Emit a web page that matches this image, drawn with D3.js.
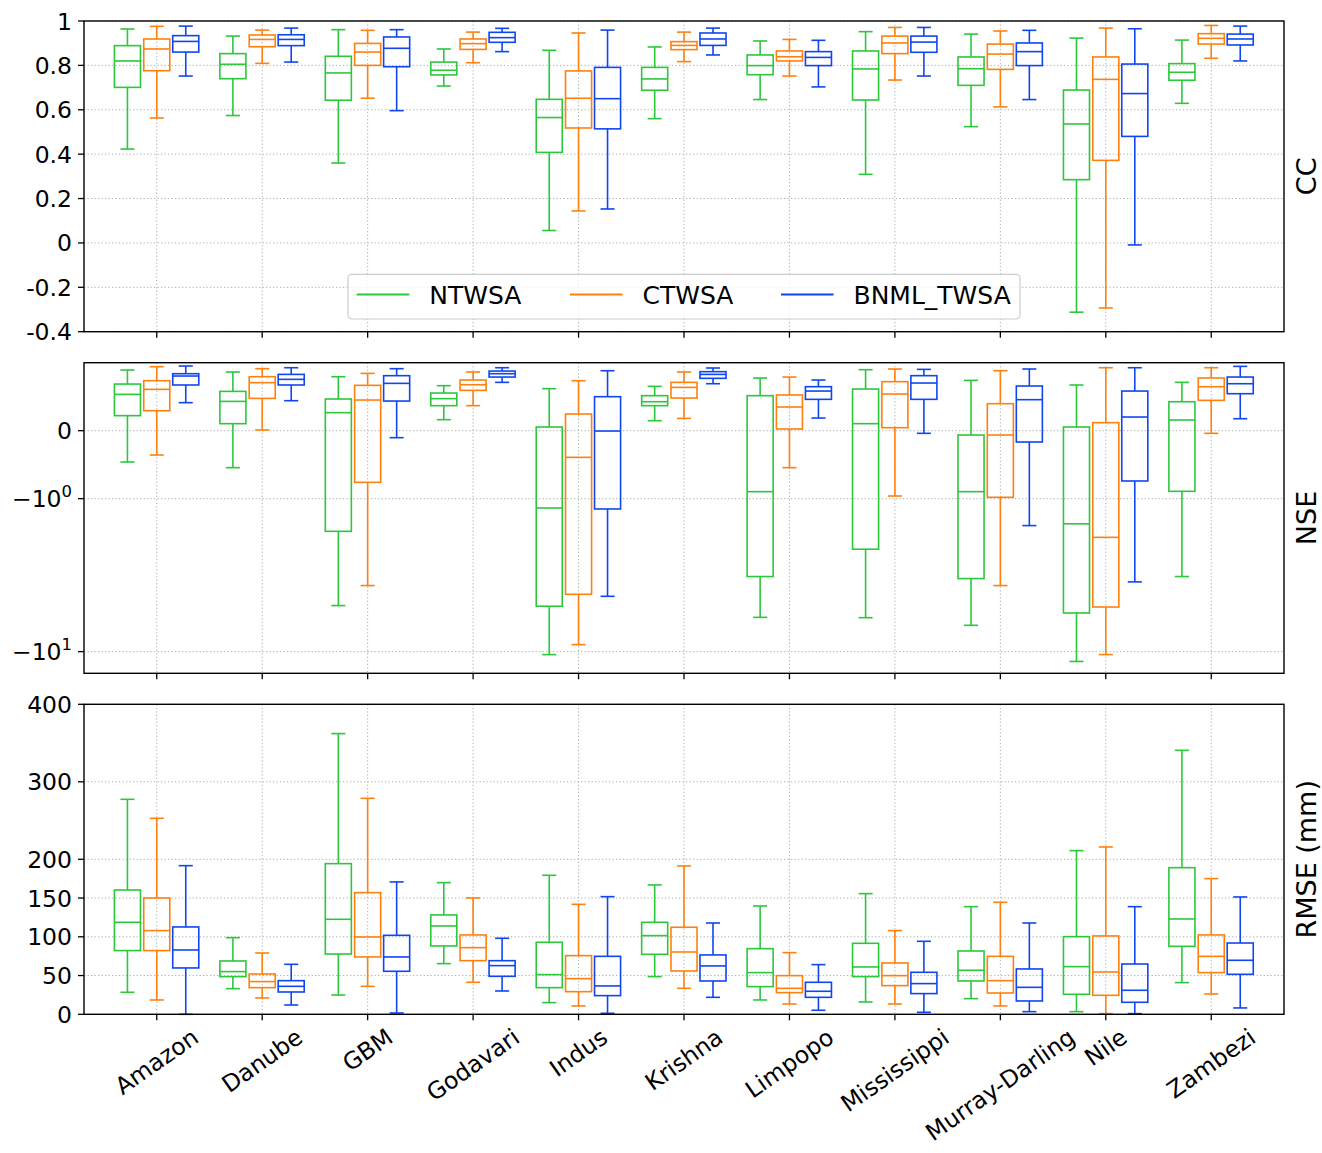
<!DOCTYPE html>
<html>
<head>
<meta charset="utf-8">
<script src="https://cdn.jsdelivr.net/npm/d3@7"></script>
<style>
  html, body { margin: 0; padding: 0; background: #fff; }
  svg { display: block; font-family: "DejaVu Sans", sans-serif; }
</style>
</head>
<body>
<svg id="chart" width="1322" height="1153"></svg>
<script>
// ---------------- data ----------------
const basins = ["Amazon","Danube","GBM","Godavari","Indus","Krishna","Limpopo","Mississippi","Murray-Darling","Nile","Zambezi"];
const seriesNames = ["NTWSA","CTWSA","BNML_TWSA"];
const seriesColors = ["#2bc83c","#ff800e","#0f46f2"];

// each entry: [lower whisker, Q1, median, Q3, upper whisker]
const ccNTWSA = [
 [0.423,0.701,0.820,0.889,0.964],[0.574,0.740,0.805,0.853,0.932],[0.360,0.643,0.766,0.841,0.961],
 [0.707,0.757,0.778,0.815,0.874],[0.056,0.408,0.565,0.647,0.868],[0.560,0.688,0.739,0.791,0.883],
 [0.646,0.758,0.799,0.847,0.910],[0.309,0.644,0.784,0.865,0.952],[0.524,0.710,0.785,0.838,0.941],
 [-0.312,0.285,0.536,0.689,0.923],[0.629,0.733,0.769,0.808,0.914]];
const ccCTWSA = [
 [0.563,0.776,0.874,0.919,0.976],[0.809,0.884,0.917,0.937,0.959],[0.652,0.800,0.860,0.899,0.958],
 [0.812,0.872,0.898,0.919,0.950],[0.144,0.518,0.652,0.775,0.946],[0.817,0.871,0.890,0.907,0.950],
 [0.752,0.820,0.839,0.865,0.917],[0.734,0.853,0.901,0.932,0.971],[0.613,0.782,0.851,0.896,0.955],
 [-0.293,0.372,0.737,0.838,0.968],[0.832,0.896,0.922,0.943,0.980]];
const ccBNML = [
 [0.752,0.860,0.908,0.934,0.977],[0.815,0.889,0.917,0.938,0.968],[0.596,0.794,0.877,0.928,0.961],
 [0.862,0.904,0.925,0.949,0.967],[0.153,0.514,0.650,0.791,0.959],[0.847,0.890,0.919,0.946,0.968],
 [0.703,0.799,0.836,0.862,0.913],[0.752,0.859,0.905,0.932,0.971],[0.646,0.799,0.862,0.901,0.958],
 [-0.009,0.480,0.673,0.806,0.965],[0.820,0.892,0.919,0.941,0.977]];

const nseNTWSA = [
 [-0.461,0.221,0.534,0.686,0.892],[-0.544,0.103,0.431,0.578,0.863],[-5.00,-1.635,0.265,0.466,0.794],
 [0.162,0.368,0.471,0.554,0.662],[-10.46,-5.05,-1.151,0.054,0.618],[0.147,0.368,0.426,0.515,0.652],
 [-5.97,-3.23,-0.897,0.515,0.775],[-6.0,-2.14,0.103,0.613,0.897],[-6.73,-3.33,-0.897,-0.064,0.740],
 [-11.6,-5.59,-1.46,0.054,0.672],[-3.23,-0.892,0.157,0.426,0.711]];
const nseCTWSA = [
 [-0.358,0.294,0.608,0.735,0.941],[0.010,0.475,0.706,0.794,0.912],[-3.70,-0.760,0.451,0.667,0.843],
 [0.368,0.593,0.676,0.745,0.863],[-9.00,-4.22,-0.392,0.245,0.735],[0.181,0.480,0.637,0.711,0.863],
 [-0.544,0.025,0.348,0.525,0.789],[-0.961,0.044,0.539,0.721,0.907],[-3.70,-0.980,-0.064,0.397,0.882],
 [-10.46,-5.11,-1.79,0.118,0.926],[-0.039,0.446,0.647,0.775,0.926]];
const nseBNML = [
 [0.412,0.672,0.804,0.838,0.951],[0.441,0.672,0.755,0.828,0.926],[-0.103,0.436,0.696,0.809,0.912],
 [0.711,0.789,0.838,0.877,0.926],[-4.35,-1.168,-0.005,0.500,0.882],[0.691,0.770,0.828,0.868,0.922],
 [0.186,0.461,0.583,0.647,0.745],[-0.039,0.461,0.701,0.809,0.902],[-1.50,-0.167,0.456,0.657,0.907],
 [-3.50,-0.740,0.201,0.583,0.926],[0.176,0.544,0.691,0.789,0.946]];

const rmseNTWSA = [
 [28.4,82.2,118.7,160.4,277.4],[33.1,48.6,55.1,68.8,98.9],[24.9,77.8,122.6,194.4,362.2],
 [65.4,88.2,114.0,128.2,169.9],[15.1,34.4,51.2,92.9,179.4],[48.6,77.4,101.5,118.7,166.9],
 [18.5,35.7,53.8,84.7,139.8],[15.9,48.6,61.1,91.6,155.7],[20.2,43.0,56.8,81.7,138.9],
 [3.4,25.8,61.5,100.2,211.2],[40.9,87.7,123.0,189.2,340.6]];
const rmseCTWSA = [
 [18.5,82.2,108.0,150.1,252.9],[21.1,34.4,42.2,52.0,79.1],[36.1,74.0,99.8,157.0,278.7],
 [41.3,69.2,86.0,102.4,150.1],[10.8,29.2,46.0,75.7,141.9],[33.5,55.9,80.4,112.3,191.4],
 [13.3,28.0,33.5,49.9,79.6],[13.3,37.0,49.9,66.2,108.0],[10.8,27.5,43.4,74.8,144.5],
 [0.9,24.5,54.6,101.1,215.9],[26.2,53.8,74.8,102.4,175.1]];
const rmseBNML = [
 [0,59.8,83.0,112.7,191.8],[12.0,28.8,36.1,43.4,64.5],[1.7,55.5,74.0,101.9,170.8],
 [30.1,49.0,62.8,69.2,98.1],[1.3,24.1,36.6,74.8,151.8],[21.9,43.0,62.4,76.6,117.8],
 [5.2,21.9,29.7,41.3,64.1],[2.6,26.7,39.6,54.2,94.2],[3.4,17.2,34.8,58.5,117.8],
 [0.9,15.5,31.0,64.9,138.9],[8.2,51.6,69.7,92.0,151.4]];

const ccTicks = [1,0.8,0.6,0.4,0.2,0,-0.2,-0.4];
const ccTickLabels = ["1","0.8","0.6","0.4","0.2","0","-0.2","-0.4"];
const nseTicks = [0,-1,-10];
const nseTickLabels = [["0",""],["\u221210","0"],["\u221210","1"]];
const rmseTicks = [0,50,100,150,200,300,400];
const rmseTickLabels = ["0","50","100","150","200","300","400"];

// ---------------- layout ----------------
const svg = d3.select("#chart");
svg.append("rect").attr("width",1322).attr("height",1153).attr("fill","#fff");

const plotLeft = 84, plotRight = 1284;
const x = d3.scaleLinear().domain([0.31, 11.69]).range([plotLeft, plotRight]);
const offsets = [-0.278, 0, 0.275];
const boxW = 0.247;
const tickFS = 23.5, labelFS = 27, legendFS = 25;
const gridColor = "#b0b0b0";

// symlog-like transform (linear between -1 and 1, log beyond)
const LOGK = 2.25;
function symT(v){ return v >= -1 ? v : -1 - LOGK*Math.log10(-v); }
const idT = v => v;

const panels = [
  {top:21, bottom:331.7, domain:[-0.4,1], tf:idT, data:[ccNTWSA,ccCTWSA,ccBNML], ticks:ccTicks, labels:ccTickLabels, ylabel:"CC"},
  {top:362.7, bottom:673.3, domain:[symT(-13.86),1], tf:symT, data:[nseNTWSA,nseCTWSA,nseBNML], ticks:nseTicks, labels:nseTickLabels, ylabel:"NSE", sup:true},
  {top:704.3, bottom:1014.3, domain:[0,400], tf:idT, data:[rmseNTWSA,rmseCTWSA,rmseBNML], ticks:rmseTicks, labels:rmseTickLabels, ylabel:"RMSE (mm)"}
];

panels.forEach((p, pi) => {
  const yLin = d3.scaleLinear().domain(p.domain).range([p.bottom, p.top]);
  const y = v => yLin(p.tf(v));
  const g = svg.append("g");

  // grid
  const grid = g.append("g").attr("stroke", gridColor).attr("stroke-width", 1).attr("stroke-dasharray","1.3,2.2");
  p.ticks.forEach(t => {
    grid.append("line").attr("x1",plotLeft).attr("x2",plotRight).attr("y1",y(t)).attr("y2",y(t));
  });
  basins.forEach((b,i) => {
    grid.append("line").attr("x1",x(i+1)).attr("x2",x(i+1)).attr("y1",p.top).attr("y2",p.bottom);
  });

  // boxes
  p.data.forEach((series, si) => {
    const col = seriesColors[si];
    const sg = g.append("g").attr("stroke", col).attr("fill","none").attr("stroke-width",1.6);
    series.forEach((d, i) => {
      const cx = x(i+1+offsets[si]);
      const hw = (x(boxW) - x(0))/2;
      const capW = hw*0.54;
      const [lo,q1,med,q3,hi] = d;
      sg.append("line").attr("x1",cx).attr("x2",cx).attr("y1",y(q1)).attr("y2",y(lo));
      sg.append("line").attr("x1",cx).attr("x2",cx).attr("y1",y(q3)).attr("y2",y(hi));
      sg.append("line").attr("x1",cx-capW).attr("x2",cx+capW).attr("y1",y(lo)).attr("y2",y(lo));
      sg.append("line").attr("x1",cx-capW).attr("x2",cx+capW).attr("y1",y(hi)).attr("y2",y(hi));
      sg.append("rect").attr("x",cx-hw).attr("width",2*hw)
        .attr("y",y(q3)).attr("height",y(q1)-y(q3));
      sg.append("line").attr("x1",cx-hw).attr("x2",cx+hw).attr("y1",y(med)).attr("y2",y(med));
    });
  });

  // spines
  g.append("rect").attr("x",plotLeft).attr("y",p.top).attr("width",plotRight-plotLeft).attr("height",p.bottom-p.top)
    .attr("fill","none").attr("stroke","#000").attr("stroke-width",1.4);

  // y ticks
  const yt = g.append("g");
  p.ticks.forEach((t, ti) => {
    yt.append("line").attr("x1",plotLeft-6).attr("x2",plotLeft).attr("y1",y(t)).attr("y2",y(t))
      .attr("stroke","#000").attr("stroke-width",1.3);
    const txt = yt.append("text").attr("x",plotLeft-12).attr("y",y(t)+8.5)
      .attr("text-anchor","end").attr("font-size",tickFS).attr("fill","#000");
    if (p.sup) {
      const [base, ex] = p.labels[ti];
      txt.append("tspan").text(base);
      if (ex) txt.append("tspan").attr("dy",-10).attr("font-size",tickFS*0.7).text(ex);
    } else {
      txt.text(p.labels[ti]);
    }
  });

  // x ticks
  basins.forEach((b,i) => {
    g.append("line").attr("x1",x(i+1)).attr("x2",x(i+1)).attr("y1",p.bottom).attr("y2",p.bottom+6)
      .attr("stroke","#000").attr("stroke-width",1.3);
  });

  // y label on the right
  const ly = (p.top+p.bottom)/2;
  g.append("text").attr("transform",`translate(1306,${ly}) rotate(-90)`)
    .attr("text-anchor","middle").attr("dominant-baseline","central")
    .attr("font-size",labelFS).attr("fill","#000").text(p.ylabel);

  // x tick labels on bottom panel
  if (pi === 2) {
    const ang = 35*Math.PI/180;
    const top0 = p.bottom + 11;
    basins.forEach((b,i) => {
      const t = g.append("text").attr("text-anchor","middle").attr("dominant-baseline","central")
        .attr("font-size",tickFS).attr("fill","#000").text(b);
      const w = t.node().getComputedTextLength();
      const h = tickFS*0.95;
      const bh = w*Math.sin(ang) + h*Math.cos(ang);
      t.attr("transform",`translate(${x(i+1)},${top0 + bh/2}) rotate(-35)`);
    });
  }

  // legend in first panel
  if (pi === 0) {
    const lg = g.append("g");
    lg.append("rect").attr("x",348).attr("y",274.3).attr("width",672).attr("height",44.7).attr("rx",4)
      .attr("fill","#fff").attr("fill-opacity",0.8).attr("stroke","#cccccc").attr("stroke-width",1.2);
    const lineX = [356.7, 570, 781];
    seriesNames.forEach((s,si) => {
      lg.append("line").attr("x1",lineX[si]).attr("x2",lineX[si]+52.6).attr("y1",294.5).attr("y2",294.5)
        .attr("stroke",seriesColors[si]).attr("stroke-width",2);
      lg.append("text").attr("x",lineX[si]+72.5).attr("y",304).attr("font-size",legendFS).attr("fill","#000").text(s);
    });
  }
});
</script>
</body>
</html>
